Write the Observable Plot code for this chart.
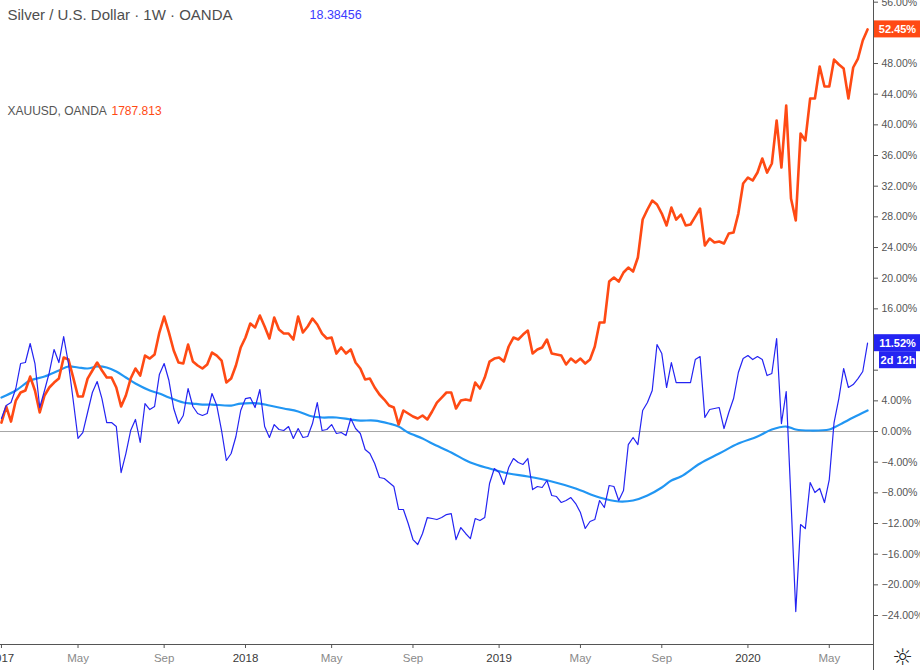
<!DOCTYPE html>
<html><head><meta charset="utf-8">
<script src="https://cdn.jsdelivr.net/npm/d3@7"></script>
<script src="https://cdn.jsdelivr.net/npm/@observablehq/plot@0.6"></script>
<style>body{margin:0;background:#fff;} #chart svg{display:block}</style>
</head><body><div id="chart"></div>
<script>
// ---- data (percent change vs. base bar, weekly bars) ----
const firstWeek = "2017-01-09";
const silverPct = [
 1.70, 3.39, 3.78, 5.61, 8.87, 9.00, 11.48, 8.87, 3.13, 5.35,
 7.70, 10.70, 9.00, 12.39, 8.87, 4.04, -0.91, -0.13, 2.48, 5.09,
 6.52, 4.30, 1.17, 1.17, 0.65, -5.35, -2.87, 0.13, 1.57, -1.43,
 3.65, 2.87, 3.26, 7.43, 8.87, 6.65, 3.00, 1.04, 2.09, 5.61,
 3.26, 2.35, 2.09, 2.35, 4.96, 3.39, 0.13, -3.78, -2.87, -0.65,
 2.74, 4.30, 4.43, 3.13, 5.48, 0.65, -0.78, 0.91, 0.26, 0.13,
 0.65, -0.91, 0.39, -0.78, -0.65, 1.04, 3.78, 0.13, 0.26, 0.91,
 -0.26, -0.13, -0.52, 1.70, 0.39, -0.26, -2.35, -2.87, -4.17, -6.00,
 -6.13, -6.65, -7.17, -10.17, -10.17, -12.00, -14.09, -14.74, -13.30, -11.22,
 -11.35, -11.48, -11.22, -10.83, -10.70, -14.09, -12.52, -13.30, -13.96, -11.35,
 -11.61, -11.22, -6.78, -4.83, -5.35, -6.91, -4.70, -3.52, -4.04, -4.30,
 -3.52, -7.57, -7.17, -7.30, -6.39, -8.35, -8.48, -9.26, -9.00, -8.61,
 -9.39, -10.57, -12.65, -11.74, -11.48, -9.00, -9.91, -7.04, -7.17, -9.00,
 -7.70, -1.70, -0.78, -1.70, 2.74, 3.78, 5.35, 11.35, 10.17, 5.74,
 9.00, 6.39, 6.39, 6.39, 6.39, 9.39, 9.78, 1.83, 2.87, 3.00,
 3.13, 0.39, 2.48, 4.30, 7.70, 9.52, 9.91, 9.39, 9.78, 9.39,
 7.30, 7.57, 12.13, 1.04, 5.22, -9.00, -23.48, -12.13, -12.65, -6.65,
 -7.96, -7.43, -9.26, -6.26, 1.17, 4.30, 8.22, 5.74, 6.13, 6.91,
 7.83, 11.52
];
const goldPct = [
 1.17, 3.26, 1.30, 4.04, 5.09, 5.35, 7.17, 5.35, 2.48, 4.70,
 5.74, 6.39, 6.91, 9.65, 9.39, 7.04, 4.57, 4.57, 6.91, 7.96,
 9.00, 7.96, 7.04, 7.04, 5.74, 3.26, 4.70, 6.91, 8.22, 7.30,
 9.91, 9.52, 10.04, 12.91, 15.00, 12.91, 10.57, 9.00, 8.87, 11.35,
 9.13, 8.61, 8.22, 8.74, 10.30, 9.91, 9.26, 6.39, 6.91, 8.61,
 10.96, 12.26, 14.09, 13.57, 15.13, 13.70, 12.13, 14.87, 13.30, 12.78,
 12.78, 12.00, 15.00, 12.91, 13.70, 14.74, 13.96, 12.78, 12.13, 12.26,
 10.17, 10.96, 10.17, 10.70, 9.00, 8.22, 6.78, 6.91, 5.74, 4.83,
 4.17, 3.39, 3.13, 0.91, 2.74, 2.35, 1.96, 1.70, 2.09, 1.57,
 2.61, 3.78, 4.43, 5.09, 5.09, 3.00, 4.04, 4.17, 4.04, 6.39,
 5.61, 7.04, 9.13, 9.52, 9.65, 9.13, 11.09, 12.26, 12.00, 12.65,
 13.17, 10.17, 10.70, 10.96, 12.00, 10.17, 10.04, 9.91, 8.74, 9.52,
 9.00, 9.52, 8.87, 9.39, 11.09, 14.22, 14.22, 19.56, 20.09, 19.56,
 20.74, 21.39, 20.87, 22.70, 27.65, 28.96, 30.13, 29.61, 28.43, 26.87,
 29.22, 27.65, 28.30, 26.87, 27.00, 28.04, 29.09, 24.26, 25.17, 24.65,
 24.78, 24.52, 25.83, 25.96, 28.43, 32.35, 33.13, 32.74, 33.78, 35.61,
 33.78, 34.96, 40.57, 34.43, 42.52, 30.39, 27.52, 38.87, 37.96, 43.43,
 43.43, 47.61, 45.00, 45.00, 48.52, 47.87, 47.35, 43.43, 47.48, 48.65,
 51.00, 52.45
];
const maWeek = [0,3,6,9,12,14,16,18,20,22,24,26,28,31,33,35,38,40,42,44,48,50,54,56,59,62,65,67,70,73,75,78,81,83,85,88,90,94,98,102,106,110,115,120,125,129,132,135,138,140,142,146,150,154,158,161,164,166,169,173,174,176,178,181];
const maPct = [4.43,5.35,6.65,7.17,7.96,8.48,8.35,8.22,8.48,8.35,7.83,7.04,6.26,5.35,4.96,4.43,3.78,3.65,3.52,3.52,3.39,3.65,3.65,3.39,3.00,2.61,1.96,1.83,1.83,1.57,1.43,1.43,1.04,0.65,-0.13,-0.91,-1.57,-2.74,-4.04,-4.83,-5.48,-5.87,-6.52,-7.43,-8.61,-9.13,-9.00,-8.35,-7.30,-6.39,-5.87,-4.17,-2.87,-1.57,-0.65,0.26,0.65,0.26,0.13,0.26,0.52,1.17,1.83,2.74];
const yTicks = [-24,-20,-16,-12,-8,-4,0,4,8,12,16,20,24,28,32,36,40,44,48,52,56];
const yearTickDates = ["2017-01-09","2018-01-01","2019-01-07","2020-01-06"];
const yearTickLabels = ["2017","2018","2019","2020"];
const monthTickDates = ["2017-05-01","2017-09-04","2018-05-07","2018-09-03","2019-05-06","2019-09-02","2020-05-04"];
const monthTickLabels = ["May","Sep","May","Sep","May","Sep","May"];
const titleText = "Silver / U.S. Dollar · 1W · OANDA";
const silverLastPrice = "18.38456";
const goldName = "XAUUSD, OANDA";
const goldLastPrice = "1787.813";
const barCountdown = "2d 12h";

// ---- styling ----
const GOLD = "#ff4a14", SILVER = "#2424f2", MA = "#2196f3", AXIS = "#555";
const W = 920, H = 670, mR = 47, mB = 26;
const xDomain = [new Date("2017-01-07T14:24Z"), new Date("2020-07-07T16:48Z")];
const yDomain = [-27.78, 56.22];

const start = new Date(firstWeek + "T00:00Z");
const weekDate = i => d3.utcDay.offset(start, 7 * i);
const silver = silverPct.map((v, i) => ({date: weekDate(i), v}));
const gold = goldPct.map((v, i) => ({date: weekDate(i), v}));
const ma = maWeek.map((w, i) => ({date: weekDate(w), v: maPct[i]}));
const toD = s => new Date(s + "T00:00Z");
const yearLab = new Map(yearTickDates.map((d, i) => [+toD(d), yearTickLabels[i]]));
const monLab = new Map(monthTickDates.map((d, i) => [+toD(d), monthTickLabels[i]]));

// pixel->data helpers for margin annotations
const dayPerPx = (xDomain[1] - xDomain[0]) / (W - mR);
const pctPerPx = (yDomain[1] - yDomain[0]) / (H - mB);
const xAt = px => new Date(+xDomain[1] + px * dayPerPx);
const yBottomExt = yDomain[0] - mB * pctPerPx;
const fmtPct = v => (v < 0 ? "\u2212" : "") + Math.abs(v).toFixed(2) + "%";

const lastGold = goldPct[goldPct.length - 1];
const lastSilver = silverPct[silverPct.length - 1];
const boxH = 8.5 * pctPerPx;
const labels = [
  {x1: xAt(1), x2: xAt(47), yc: lastGold, fill: GOLD, text: fmtPct(lastGold)},
  {x1: xAt(1), x2: xAt(47), yc: lastSilver, fill: SILVER, text: fmtPct(lastSilver)},
  {x1: xAt(6), x2: xAt(43), yc: lastSilver - 17 * pctPerPx, fill: SILVER, text: barCountdown}
];
// tick labels hidden behind the value boxes
const covered = t => labels.some(l => Math.abs(t - l.yc) < boxH * 1.2);

const chart = Plot.plot({
  width: W, height: H,
  marginLeft: 0, marginRight: mR, marginTop: 0, marginBottom: mB,
  style: {fontFamily: "'Liberation Sans', Arial, sans-serif", fontSize: "11px", background: "#fff", overflow: "hidden"},
  x: {type: "utc", domain: xDomain},
  y: {domain: yDomain},
  marks: [
    Plot.ruleY([0], {stroke: "#a6a6a6", strokeWidth: 1}),
    Plot.line(ma, {x: "date", y: "v", stroke: MA, strokeWidth: 2.2, curve: "catmull-rom"}),
    Plot.line(gold, {x: "date", y: "v", stroke: GOLD, strokeWidth: 2.6, strokeLinejoin: "round"}),
    Plot.line(silver, {x: "date", y: "v", stroke: SILVER, strokeWidth: 1.2, strokeLinejoin: "round"}),
    Plot.frame({anchor: "bottom", stroke: AXIS}),
    Plot.ruleX([xDomain[1]], {y1: yDomain[1], y2: yBottomExt, stroke: AXIS}),
    Plot.axisY({anchor: "right", ticks: yTicks, tickFormat: t => covered(t) ? "" : fmtPct(t), tickSize: 4, tickPadding: 4, fill: AXIS, stroke: AXIS, fontSize: 10.5, label: null}),
    Plot.axisX({ticks: yearTickDates.map(toD), tickFormat: d => yearLab.get(+d), tickSize: 4, tickPadding: 5, fill: "#3a3a3a", stroke: AXIS, fontSize: 11.5, label: null}),
    Plot.axisX({ticks: monthTickDates.map(toD), tickFormat: d => monLab.get(+d), tickSize: 4, tickPadding: 5, fill: "#8a8a8a", stroke: AXIS, fontSize: 11.5, label: null}),
    Plot.rect(labels, {x1: "x1", x2: "x2", y1: d => d.yc - boxH, y2: d => d.yc + boxH, fill: "fill"}),
    Plot.text(labels, {x: d => new Date((+d.x1 + +d.x2) / 2), y: "yc", text: "text", fill: "#fff", fontWeight: "bold", fontSize: 11, textAnchor: "middle"}),
    Plot.text([titleText], {frameAnchor: "top-left", dx: 7, dy: 8.5, fontSize: 15, fill: "#4e4e4e", textAnchor: "start", lineAnchor: "top"}),
    Plot.text([silverLastPrice], {frameAnchor: "top-left", dx: 309, dy: 10, fontSize: 12.5, fill: "#3b3bff", textAnchor: "start", lineAnchor: "top"}),
    Plot.text([goldName], {frameAnchor: "top-left", dx: 7, dy: 106, fontSize: 12, fill: "#555", textAnchor: "start", lineAnchor: "top"}),
    Plot.text([goldLastPrice], {frameAnchor: "top-left", dx: 111, dy: 106, fontSize: 12, fill: GOLD, textAnchor: "start", lineAnchor: "top"}),
    Plot.text(["\u263C"], {frameAnchor: "bottom-right", dx: 29, dy: 13, fontSize: 23, fill: "#222", fontFamily: "DejaVu Sans", textAnchor: "middle", lineAnchor: "middle"})
  ]
});
document.getElementById("chart").append(chart);
</script>
</body></html>
